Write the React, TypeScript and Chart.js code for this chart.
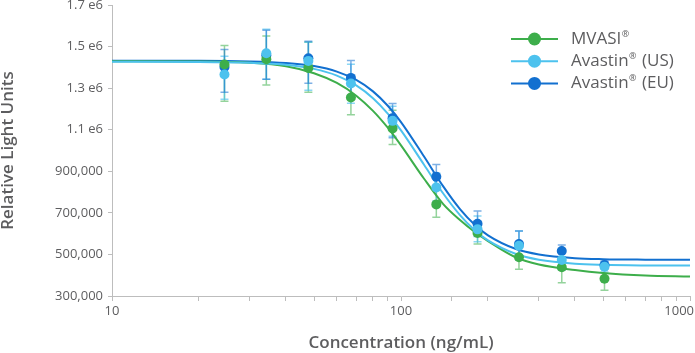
import React, { useEffect, useRef } from 'react';
import { Chart, registerables } from 'chart.js';

Chart.register(...registerables);

const seriesNames = ['MVASI®', 'Avastin® (US)', 'Avastin® (EU)'];
const seriesColors = ['#3dae4b', '#4dc2ee', '#1270d0'];
const errorColors = ['rgba(61,174,75,0.55)', 'rgba(77,194,238,0.65)', 'rgba(18,112,208,0.55)'];

// measured concentrations (ng/mL)
const concentrations = [24.5, 34.2, 47.8, 67.1, 93.5, 132.5, 184, 256, 360, 506];

const mvasiMean = [1414000, 1439500, 1397700, 1255300, 1106300, 740900, 602900, 486100, 438000, 383200];
const mvasiHigh = [1505400, 1551500, 1521200, 1338500, 1194300, 809600, 655800, 540400, 511600, 434600];
const mvasiLow = [1237600, 1315900, 1280800, 1171700, 1029400, 678400, 550000, 428400, 363900, 327400];

const usMean = [1365900, 1468300, 1431300, 1322700, 1142800, 822600, 620700, 541800, 473100, 440900];
const usHigh = [1453900, 1583700, 1521200, 1415500, 1213500, 891400, 684600, 612500, 521200, 464900];
const usLow = [1247200, 1343300, 1290400, 1227900, 1069300, 756800, 561100, 473100, 425000, 415400];

const euMean = [1402500, 1458700, 1444300, 1349600, 1155800, 873600, 647600, 550000, 516400, 449000];
const euHigh = [1486200, 1578900, 1526000, 1433200, 1226500, 933200, 708700, 612500, 545200, 468300];
const euLow = [1280800, 1343300, 1324100, 1266400, 1061100, 814500, 586100, 487500, 487500, 429800];

// fitted curves
const curveConc = [10, 20, 30, 40, 50, 60, 70, 80, 90, 100, 120, 140, 160, 180, 200, 250, 300, 400, 500, 700, 1000];
const mvasiCurve = [1429900, 1428900, 1422700, 1405800, 1372200, 1325100, 1264000, 1190900, 1109700, 1024600, 865400, 742300, 665400, 607700, 564400, 485100, 451500, 425000, 410600, 398600, 393800];
const usCurve = [1427500, 1426600, 1422200, 1412600, 1392900, 1360700, 1313600, 1252000, 1178000, 1096700, 932700, 793300, 689400, 616400, 567300, 501900, 474500, 455300, 450000, 447100, 446200];
const euCurve = [1432000, 1431800, 1428900, 1421200, 1406300, 1379900, 1339500, 1284700, 1215400, 1137100, 972200, 827400, 718300, 642800, 591800, 526000, 500000, 482200, 477400, 475000, 474000];

const yTickValues = [300000, 500000, 700000, 900000, 1100000, 1300000, 1500000, 1700000];
const yTickLabels = ['300,000', '500,000', '700,000', '900,000', '1.1 e6', '1.3 e6', '1.5 e6', '1.7 e6'];
const xTickValues = [10, 100, 1000];
const xTickLabels = ['10', '100', '1000'];

const means = [mvasiMean, usMean, euMean];
const highs = [mvasiHigh, usHigh, euHigh];
const lows = [mvasiLow, usLow, euLow];
const curves = [mvasiCurve, usCurve, euCurve];

const FONT = '"Open Sans", "DejaVu Sans", sans-serif';
const AXIS_COLOR = '#bdbdbd';
const TEXT_COLOR = '#5d5d5f';

const errorBarPlugin = {
  id: 'errorBars',
  beforeDatasetsDraw(chart: any) {
    const { ctx, scales } = chart;
    const xs = scales.x;
    const ys = scales.y;
    ctx.save();
    ctx.lineWidth = 1.5;
    for (let s = 0; s < 3; s++) {
      ctx.strokeStyle = errorColors[s];
      for (let i = 0; i < concentrations.length; i++) {
        const px = xs.getPixelForValue(concentrations[i]);
        const yH = ys.getPixelForValue(highs[s][i]);
        const yL = ys.getPixelForValue(lows[s][i]);
        ctx.beginPath();
        ctx.moveTo(px, yH);
        ctx.lineTo(px, yL);
        ctx.moveTo(px - 4, yH);
        ctx.lineTo(px + 4, yH);
        ctx.moveTo(px - 4, yL);
        ctx.lineTo(px + 4, yL);
        ctx.stroke();
      }
    }
    ctx.restore();
  },
};

const xLabelPlugin = {
  id: 'xLabels',
  afterDraw(chart: any) {
    const { ctx, scales } = chart;
    const xs = scales.x;
    ctx.save();
    ctx.font = `13px ${FONT}`;
    ctx.fillStyle = TEXT_COLOR;
    ctx.textBaseline = 'middle';
    ctx.textAlign = 'center';
    xTickValues.forEach((v, i) => {
      const t = xTickLabels[i];
      const w = ctx.measureText(t).width;
      let px = xs.getPixelForValue(v);
      px = Math.min(px, chart.width - 1 - w / 2);
      ctx.fillText(t, px, xs.top + 15);
    });
    ctx.restore();
  },
};

const legendPlugin = {
  id: 'customLegend',
  afterDraw(chart: any) {
    const ctx = chart.ctx;
    ctx.save();
    seriesNames.forEach((name, i) => {
      const y = 39 + i * 22.2;
      const x0 = 511;
      ctx.strokeStyle = seriesColors[i];
      ctx.lineWidth = 2;
      ctx.beginPath();
      ctx.moveTo(x0, y);
      ctx.lineTo(x0 + 47, y);
      ctx.stroke();
      ctx.fillStyle = seriesColors[i];
      ctx.beginPath();
      ctx.arc(x0 + 23.5, y, 6.5, 0, Math.PI * 2);
      ctx.fill();
      ctx.fillStyle = TEXT_COLOR;
      ctx.textBaseline = 'middle';
      ctx.textAlign = 'left';
      const parts = name.split('®');
      let tx = 571;
      const big = `500 17px ${FONT}`;
      ctx.font = big;
      ctx.fillText(parts[0], tx, y);
      tx += ctx.measureText(parts[0]).width;
      if (parts.length > 1) {
        ctx.font = `500 9px ${FONT}`;
        ctx.fillText('®', tx + 0.5, y - 5);
        tx += ctx.measureText('®').width + 1.5;
        ctx.font = big;
        ctx.fillText(parts[1], tx, y);
      }
    });
    ctx.restore();
  },
};

export default function App() {
  const ref = useRef<HTMLCanvasElement | null>(null);

  useEffect(() => {
    if (!ref.current) return;
    Chart.defaults.font.family = FONT;
    const curveOrder = [5, 4, 6];
    const pointOrder = [2, 1, 3];
    const datasets: any[] = [];
    for (let s = 0; s < 3; s++) {
      datasets.push({
        type: 'line',
        label: seriesNames[s] + ' fit',
        data: curveConc.map((x, i) => ({ x, y: curves[s][i] })),
        borderColor: seriesColors[s],
        borderWidth: 2,
        pointRadius: 0,
        cubicInterpolationMode: 'monotone',
        fill: false,
        order: curveOrder[s],
      });
      datasets.push({
        type: 'scatter',
        label: seriesNames[s],
        data: concentrations.map((x, i) => ({ x, y: means[s][i] })),
        backgroundColor: seriesColors[s],
        borderWidth: 0,
        pointRadius: 5,
        showLine: false,
        order: pointOrder[s],
      });
    }

    const chart = new Chart(ref.current, {
      type: 'scatter',
      data: { datasets },
      options: {
        responsive: false,
        animation: false,
        devicePixelRatio: 1,
        layout: { padding: { top: 0, right: 1, bottom: 0, left: 0 } },
        plugins: {
          legend: { display: false },
          tooltip: { enabled: false },
        },
        scales: {
          x: {
            type: 'logarithmic',
            min: 10,
            max: 1000,
            afterFit: (scale: any) => {
              scale.height = 57;
            },
            ticks: { display: false },
            grid: {
              display: true,
              drawOnChartArea: false,
              drawTicks: true,
              tickLength: 5,
              color: AXIS_COLOR,
            },
            border: { display: true, color: AXIS_COLOR, width: 1 },
            title: {
              display: true,
              text: 'Concentration (ng/mL)',
              color: TEXT_COLOR,
              font: { family: FONT, size: 17, weight: '600' as any },
              padding: { top: 0, bottom: 0 },
            },
          },
          y: {
            type: 'linear',
            min: 300000,
            max: 1700000,
            afterFit: (scale: any) => {
              scale.width = 112;
            },
            afterBuildTicks: (scale: any) => {
              scale.ticks = yTickValues.map((v) => ({ value: v }));
            },
            ticks: {
              color: TEXT_COLOR,
              padding: 5,
              font: { family: FONT, size: 13, lineHeight: 0.01 },
              callback: (v: any) => {
                const idx = yTickValues.indexOf(Number(v));
                return idx >= 0 ? yTickLabels[idx] : '';
              },
            },
            grid: {
              display: true,
              drawOnChartArea: false,
              drawTicks: true,
              tickLength: 4,
              color: AXIS_COLOR,
            },
            border: { display: true, color: AXIS_COLOR, width: 1 },
            title: {
              display: true,
              text: 'Relative Light Units',
              color: TEXT_COLOR,
              font: { family: FONT, size: 17, weight: '600' as any, lineHeight: 1 },
              padding: { top: 0, bottom: 0 },
            },
          },
        },
      } as any,
      plugins: [errorBarPlugin, xLabelPlugin, legendPlugin],
    });
    return () => chart.destroy();
  }, []);

  return (
    <div style={{ position: 'fixed', left: 0, top: 0, width: 695, height: 353, background: '#fff' }}>
      <canvas ref={ref} width={695} height={353} style={{ width: 695, height: 353, display: 'block' }} />
    </div>
  );
}
